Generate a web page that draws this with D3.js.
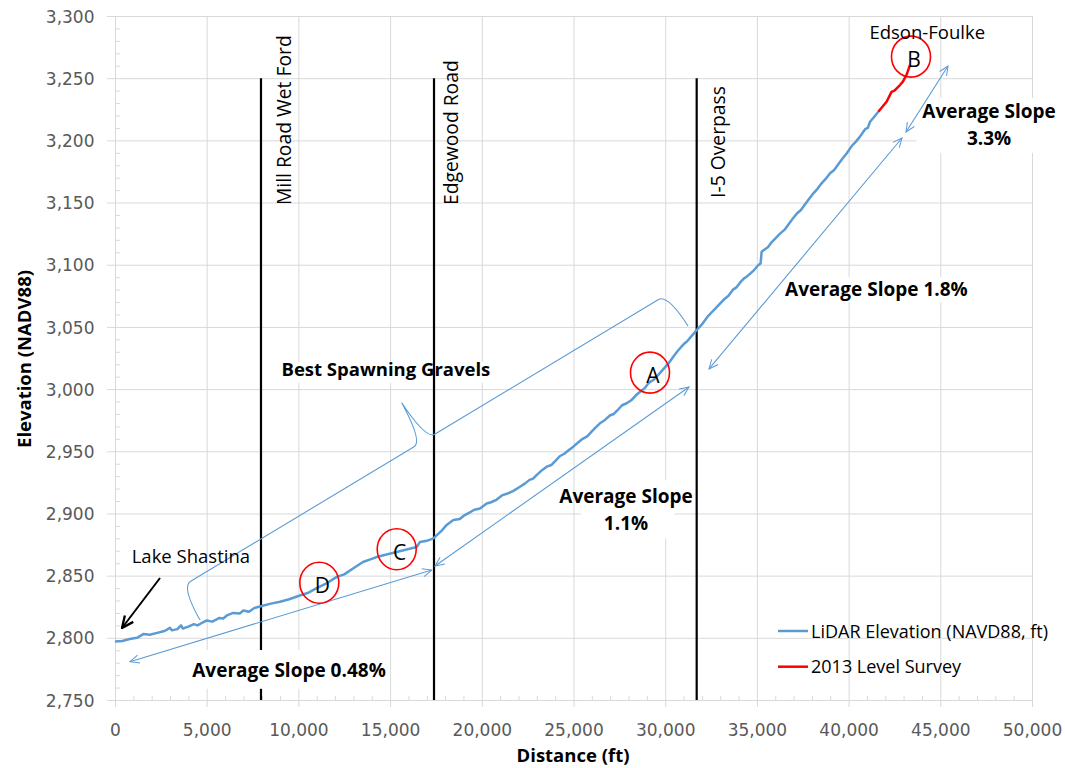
<!DOCTYPE html>
<html><head><meta charset="utf-8">
<script src="https://cdn.jsdelivr.net/npm/d3@7"></script>
<style>
html,body{margin:0;padding:0;background:#fff;}
text{font-family:"Open Sans",Lato,sans-serif;}
</style></head>
<body>
<svg id="chart" width="1065" height="768"></svg>
<script>
// ---------- DATA ----------
const xTicks = [0,5000,10000,15000,20000,25000,30000,35000,40000,45000,50000];
const yTicks = [2750,2800,2850,2900,2950,3000,3050,3100,3150,3200,3250,3300];
const lidarDist = [0,400,800,1200,1545,1900,2300,2700,3000,3100,3400,3600,3700,4000,4300,4500,4800,5000,5300,5700,5900,6100,6450,6800,7000,7300,7600,8000,8500,9000,9500,10000,10500,11000,11500,12090,12500,13000,13520,14000,14270,14800,15360,15900,16450,16630,17000,17360,17800,18100,18450,18800,19000,19300,19600,19900,20270,20500,20800,21100,21400,21700,22080,22350,22600,22800,23000,23300,23540,23800,24000,24250,24500,24750,24990,25250,25500,25750,26000,26200,26440,26700,27000,27200,27400,27650,27900,28150,28400,28650,28900,29100,29350,29600,29900,30150,30440,30700,31000,31200,31400,31720,32000,32300,32550,32810,33170,33450,33700,33900,34100,34300,34440,34650,34800,35080,35200,35260,35400,35600,35800,36000,36260,36500,36700,36950,37170,37400,37600,37850,38080,38300,38500,38750,38990,39200,39400,39650,39900,40200,40400,40620,40900,41050,41170,41400,41620];
const lidarElev = [2797,2797.5,2799,2800,2803,2802.5,2804,2805.5,2808,2806,2807,2810,2807.5,2809,2811,2810,2812.5,2814,2813,2816,2815.5,2818,2820,2819.5,2822,2821,2824,2825.6,2827.5,2829,2831,2833.6,2836,2840,2843.5,2849,2851,2856,2861,2863.5,2865,2867,2869,2871,2873,2877,2878,2880,2886,2891,2894.7,2895.5,2898,2900.5,2903,2904,2908,2909,2911,2914.5,2916,2918,2921.5,2924,2927,2928,2931,2935,2937.6,2939,2942,2946,2948,2951,2953.7,2957,2960,2962,2966,2969,2972.5,2975,2979,2980,2983,2987,2988.6,2991,2995,2998,3001,3005,3007.3,3011,3016,3020,3026,3031,3036,3038.5,3042,3047.5,3052,3058,3062,3066,3071.6,3075,3080,3082,3086,3089,3090.4,3093,3095,3099.8,3101,3110.5,3112,3114,3118,3121,3125,3128,3132,3137,3141,3144,3148,3153,3157.4,3161,3165,3169,3173.5,3176,3180,3185,3189.6,3196,3199,3203,3209,3210,3215,3219,3223];
const surveyDist = [41620,41900,42070,42340,42500,42800,42950,43160,43350];
const surveyElev = [3223,3228,3231,3239,3240,3244.5,3247,3252.6,3260.6];
const seriesNames = ["LiDAR Elevation (NAVD88, ft)","2013 Level Survey"];
const landmarkNames = ["Mill Road Wet Ford","Edgewood Road","I-5 Overpass"];
const landmarkDist = [7960,17394,31717];
const siteLabels = ["A","B","C","D"];
const siteDist = [29171,43402,15360,11140];
const siteElev = [3013.2,3267.3,2871.2,2844.3];
const slopeLabels = ["Average Slope 0.48%","Average Slope 1.1%","Average Slope 1.8%","Average Slope 3.3%"];
// arrow ends [d0,e0,d1,e1]
const slopeArrows = [[818,2780.8,17268,2854.5],[17448,2857.8,31298,3001.7],[32388,3016.2,42912,3201.9],[43130,3206.7,45420,3259.8]];

// ---------- SETUP ----------
const svg = d3.select("#chart");
const x = d3.scaleLinear().domain([0,50000]).range([115,1032]);
const y = d3.scaleLinear().domain([2750,3300]).range([700,16]);
const blue = "#5B9BD5", red = "#FF0000", grid = "#d9d9d9", axisCol = "#595959";
const tickFont = "'DejaVu Sans', sans-serif";

const defs = svg.append("defs");
function marker(id, color, size, sw){
  defs.append("marker").attr("id",id).attr("viewBox","0 0 12 12")
    .attr("refX",11).attr("refY",6).attr("markerWidth",size).attr("markerHeight",size)
    .attr("markerUnits","userSpaceOnUse").attr("orient","auto-start-reverse")
    .append("path").attr("d","M1,1.5 L11,6 L1,10.5").attr("fill","none")
    .attr("stroke",color).attr("stroke-width",sw);
}
marker("arrBlue", blue, 11, 1.1);
marker("arrBlack", "#000", 14, 2);

// ---------- GRID ----------
svg.append("g").attr("transform","translate(115,0)")
  .call(d3.axisLeft(y).tickValues(yTicks).tickSize(-917).tickFormat(""))
  .call(g=>{g.select(".domain").remove(); g.selectAll("line").attr("stroke",grid).attr("x1",-8);});
svg.append("g").attr("transform","translate(0,700)")
  .call(d3.axisBottom(x).tickValues(xTicks).tickSize(-684).tickFormat(""))
  .call(g=>{g.select(".domain").remove(); g.selectAll("line").attr("stroke",grid).attr("y1",7);});

// minor ticks
const yMinor = d3.range(2750,3300,10).filter(v=>v%50!==0);
const xMinor = d3.range(0,50000,1000).filter(v=>v%5000!==0);
svg.append("g").attr("transform","translate(115,0)")
  .call(d3.axisLeft(y).tickValues(yMinor).tickSize(-5).tickFormat(""))
  .call(g=>{g.select(".domain").remove(); g.selectAll("line").attr("stroke",grid);});
svg.append("g").attr("transform","translate(0,700)")
  .call(d3.axisBottom(x).tickValues(xMinor).tickSize(-4).tickFormat(""))
  .call(g=>{g.select(".domain").remove(); g.selectAll("line").attr("stroke",grid);});

// axes
const fmt = d3.format(",");
svg.append("g").attr("transform","translate(115,0)")
  .call(d3.axisLeft(y).tickValues(yTicks).tickSize(0).tickFormat(fmt))
  .call(g=>{g.select(".domain").attr("stroke",grid);
    g.selectAll("text").attr("x",-20.5).attr("dy","0.36em").attr("fill",axisCol)
     .style("font-size","17px").style("font-family",tickFont);});
svg.append("g").attr("transform","translate(0,700)")
  .call(d3.axisBottom(x).tickValues(xTicks).tickSize(0).tickFormat(fmt))
  .call(g=>{g.select(".domain").attr("stroke",grid);
    g.selectAll("text").attr("y",36).attr("dy",null).attr("fill",axisCol)
     .style("font-size","17px").style("font-family",tickFont);});

// axis titles
svg.append("text").attr("transform",`translate(31,359) rotate(-90)`).attr("text-anchor","middle")
  .style("font-size","18.5px").style("font-weight","bold").attr("fill","#000").text("Elevation (NADV88)");
svg.append("text").attr("x",573).attr("y",762).attr("text-anchor","middle")
  .style("font-size","18.5px").style("font-weight","bold").attr("fill","#000").text("Distance (ft)");

// ---------- TEXT BOXES (white fill) ----------
const boxes = svg.append("g");
function whiteBox(x0,y0,x1,y1){ boxes.append("rect").attr("x",x0).attr("y",y0).attr("width",x1-x0).attr("height",y1-y0).attr("fill","#fff"); }
whiteBox(x(9000), y(3022), x(20500), y(3005));
whiteBox(x(25400), y(2927), x(30500), y(2880));
whiteBox(x(36400), y(3090), x(46700), y(3070));
whiteBox(x(43700), y(3234), x(51500), y(3190));

// ---------- LANDMARK LINES ----------
svg.append("g").selectAll("line").data(landmarkDist).join("line")
  .attr("x1",d=>x(d)).attr("x2",d=>x(d)).attr("y1",y(3250)).attr("y2",y(2750))
  .attr("stroke","#000").attr("stroke-width",2.2);
svg.append("g").selectAll("text").data(landmarkNames).join("text")
  .attr("transform",(d,i)=>{
    const dx=[9597,18702,33261][i], ey=[3148,3148,3153.7][i];
    return `translate(${x(dx)},${y(ey)}) rotate(-90)`;})
  .style("font-size","19.3px").attr("fill","#000").text(d=>d);

// ---------- BRACE ----------
const P1=[x(4635),y(2814.3)], P2=[x(31243),y(3050.7)];
const L=Math.hypot(P2[0]-P1[0],P2[1]-P1[1]), ang=Math.atan2(P2[1]-P1[1],P2[0]-P1[0])*180/Math.PI;
const h=L/2;
svg.append("path").attr("transform",`translate(${P1[0]},${P1[1]}) rotate(${ang})`)
  .attr("d",`M0,0 Q1,-38 12,-38 L${h-12},-38 Q${h-2},-38 ${h},-82 Q${h+2},-38 ${h+12},-38 L${L-12},-38 Q${L-1},-38 ${L},0`)
  .attr("fill","none").attr("stroke",blue).attr("stroke-width",1.1);

// ---------- SLOPE ARROWS ----------
svg.append("g").selectAll("line").data(slopeArrows).join("line")
  .attr("x1",d=>x(d[0])).attr("y1",d=>y(d[1])).attr("x2",d=>x(d[2])).attr("y2",d=>y(d[3]))
  .attr("stroke",blue).attr("stroke-width",1.1)
  .attr("marker-start","url(#arrBlue)").attr("marker-end","url(#arrBlue)");

// ---------- DATA LINES ----------
const lidar = lidarDist.map((d,i)=>[d,lidarElev[i]]);
const survey = surveyDist.map((d,i)=>[d,surveyElev[i]]);
const line = d3.line().x(d=>x(d[0])).y(d=>y(d[1]));
svg.append("path").datum(lidar).attr("d",line).attr("fill","none").attr("stroke",blue).attr("stroke-width",2.5).attr("stroke-linejoin","round");
svg.append("path").datum(survey).attr("d",line).attr("fill","none").attr("stroke",red).attr("stroke-width",2.5).attr("stroke-linejoin","round");

// 0.48% box (covers Mill line bottom)
svg.append("rect").attr("x",x(3800)).attr("y",y(2790.2)).attr("width",x(14900)-x(3800)).attr("height",y(2759)-y(2790.2)).attr("fill","#fff");

// ---------- SITE CIRCLES ----------
const sites = svg.append("g");
sites.selectAll("ellipse").data(siteLabels).join("ellipse")
  .attr("cx",(d,i)=>x(siteDist[i])).attr("cy",(d,i)=>y(siteElev[i])).attr("rx",19.5).attr("ry",20.5)
  .attr("fill","none").attr("stroke",red).attr("stroke-width",1.6);
sites.selectAll("text").data(siteLabels).join("text")
  .attr("x",(d,i)=>x(siteDist[i])+3).attr("y",(d,i)=>y(siteElev[i])+10.5).attr("text-anchor","middle")
  .style("font-size","21px").attr("fill","#000").text(d=>d);

// ---------- ANNOTATION TEXT ----------
function txt(d,e,s,opt){
  return svg.append("text").attr("x",x(d)).attr("y",y(e)).attr("text-anchor",opt.anchor||"start")
   .style("font-size",(opt.size||18)+"px").style("font-weight",opt.bold?"bold":"normal").attr("fill","#000").text(s);
}
txt(911,2860.4,"Lake Shastina",{size:18.5});
txt(14770,3010.5,"Best Spawning Gravels",{bold:true,anchor:"middle",size:18.5});
txt(9488,2768.5,slopeLabels[0],{bold:true,anchor:"middle",size:19});
txt(27863,2908.4,"Average Slope",{bold:true,anchor:"middle",size:19});
txt(27863,2886.7,"1.1%",{bold:true,anchor:"middle",size:19});
txt(41515,3074.9,slopeLabels[2],{bold:true,anchor:"middle",size:19});
txt(47656,3218,"Average Slope",{bold:true,anchor:"middle",size:19});
txt(47656,3196.3,"3.3%",{bold:true,anchor:"middle",size:19});
txt(44290,3281.5,"Edson-Foulke",{anchor:"middle",size:18.5});

// Lake Shastina arrow
svg.append("line").attr("x1",x(2454)).attr("y1",y(2848.1)).attr("x2",x(382)).attr("y2",y(2807.9))
  .attr("stroke","#000").attr("stroke-width",2).attr("marker-end","url(#arrBlack)");

// ---------- LEGEND ----------
const leg = svg.append("g");
[blue,red].forEach((c,i)=>{
  const yy = 631 + i*35.7;
  leg.append("line").attr("x1",778).attr("x2",808).attr("y1",yy).attr("y2",yy).attr("stroke",c).attr("stroke-width",2.5);
  leg.append("text").attr("x",811).attr("y",yy+6.5).style("font-size","18px").attr("fill","#000").text(seriesNames[i]);
});
</script>
</body></html>
